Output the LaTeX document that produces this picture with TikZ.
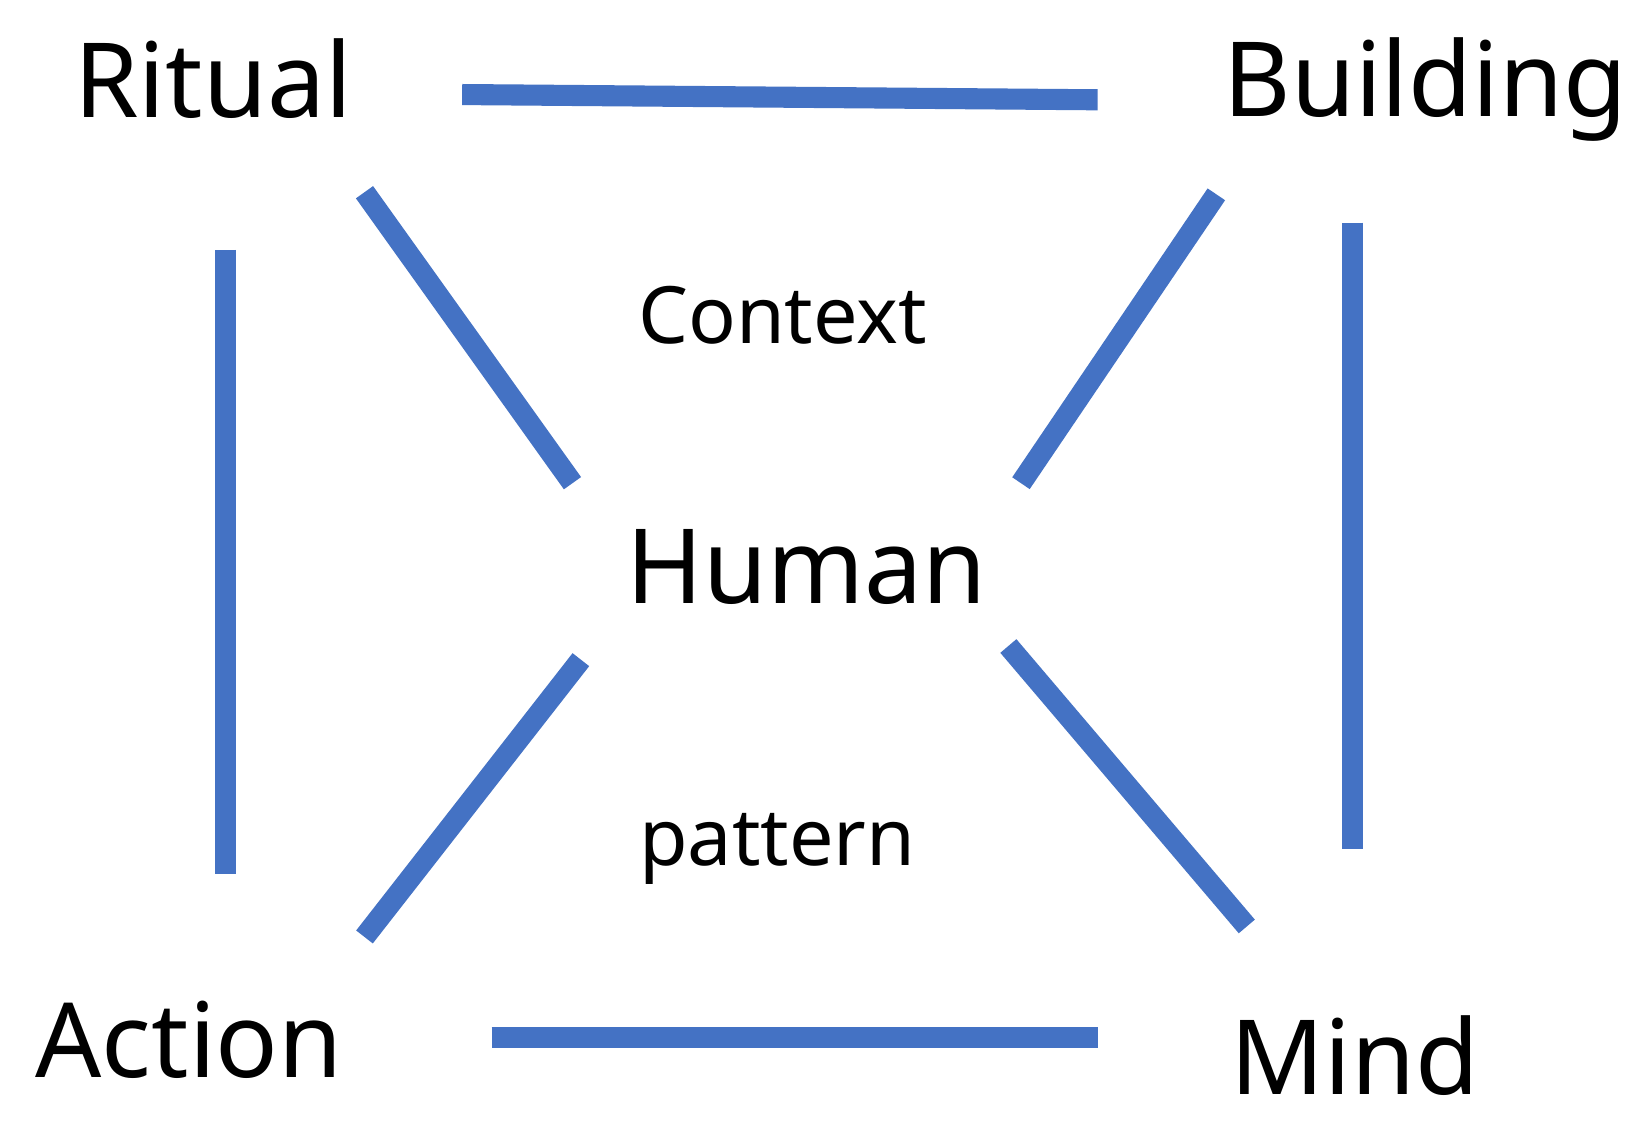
\documentclass[tikz,border=0pt]{standalone}
\usepackage{fontspec}
\setmainfont{Noto Sans}
\definecolor{lblue}{HTML}{4472C4}
\tikzset{conn/.style={draw=lblue,line width=6pt},
 big/.style={font=\fontsize{29.5}{34}\selectfont,inner sep=0pt},
 small/.style={font=\fontsize{22.5}{27}\selectfont,inner sep=0pt}}
\begin{document}
\begin{tikzpicture}[x=0.0105cm,y=-0.0105cm]
\useasboundingbox[fill=white] (0,0) rectangle (1568,1073);
\node[big] (ritual) at (203,75) {Ritual};
\node[big] (building) at (1357,85) {Building};
\node[big] (human) at (768,540) {Human};
\node[big] (action) at (180,990) {Action};
\node[big] (mind) at (1290,1005) {Mind};
\node[small] (context) at (745,300) {Context};
\node[small] (pattern) at (740,808) {pattern};
\coordinate (a1) at (440,90); \coordinate (a2) at (1045,95);
\coordinate (b1) at (215,238); \coordinate (b2) at (215,832);
\coordinate (c1) at (1288,212); \coordinate (c2) at (1288,808);
\coordinate (d1) at (468,988); \coordinate (d2) at (1045,988);
\coordinate (e1) at (347,183); \coordinate (e2) at (545,460);
\coordinate (f1) at (1158,185); \coordinate (f2) at (972,460);
\coordinate (g1) at (553,628); \coordinate (g2) at (347,892);
\coordinate (h1) at (960,615); \coordinate (h2) at (1187,882);
\foreach \p in {a,b,c,d,e,f,g,h} \draw[conn] (\p1) -- (\p2);
\end{tikzpicture}
\end{document}
